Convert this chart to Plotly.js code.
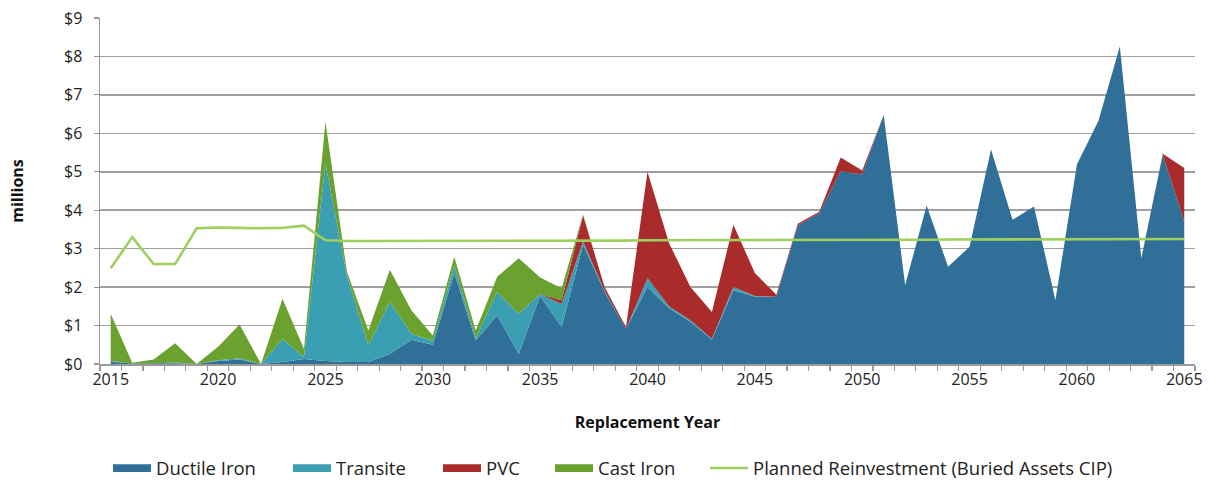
<!DOCTYPE html>
<html>
<head>
<meta charset="utf-8">
<script src="https://cdn.plot.ly/plotly-3.0.1.min.js"></script>
<style>html,body{margin:0;padding:0;background:#fff;}#chart{width:1210px;height:483px;}</style>
</head>
<body>
<div id="chart"></div>
<script>
const years = [2015,2016,2017,2018,2019,2020,2021,2022,2023,2024,2025,2026,2027,2028,2029,2030,2031,2032,2033,2034,2035,2036,2037,2038,2039,2040,2041,2042,2043,2044,2045,2046,2047,2048,2049,2050,2051,2052,2053,2054,2055,2056,2057,2058,2059,2060,2061,2062,2063,2064,2065];

const ductileIron = [0.06,0.01,0.02,0.02,0,0.08,0.12,0,0.05,0.13,0.08,0.05,0.05,0.26,0.63,0.50,2.36,0.61,1.27,0.26,1.77,0.96,3.10,1.88,0.92,2.00,1.45,1.10,0.64,1.92,1.75,1.75,3.60,3.92,5.02,4.93,6.48,2.05,4.12,2.53,3.05,5.58,3.75,4.10,1.66,5.19,6.32,8.26,2.75,5.45,3.70];
const transite    = [0.02,0,0,0.02,0,0.02,0.03,0,0.60,0.05,5.14,2.25,0.43,1.36,0.16,0.10,0.20,0.06,0.61,1.05,0.05,0.60,0.09,0.02,0,0.23,0.05,0.04,0.02,0.08,0.02,0,0,0,0,0,0,0,0,0,0,0,0,0,0,0,0,0,0,0,0];
const pvc         = [0,0,0,0,0,0,0,0,0,0,0,0,0,0,0,0,0,0,0,0,0,0.10,0.67,0.10,0.04,2.77,1.65,0.86,0.69,1.62,0.60,0.05,0.05,0.04,0.35,0.10,0,0,0,0,0,0,0,0,0,0,0,0,0,0.02,1.40];
const castIron    = [1.22,0.02,0.10,0.50,0,0.35,0.88,0,1.05,0.21,1.08,0.10,0.39,0.83,0.61,0.14,0.23,0.20,0.39,1.44,0.43,0.31,0.03,0,0,0,0,0,0,0,0,0,0,0,0,0,0,0,0,0,0,0,0,0,0,0,0,0,0,0,0];
const plannedReinvestment = [2.49,3.30,2.60,2.60,3.53,3.55,3.54,3.53,3.54,3.60,3.22,3.20,3.20,3.20,3.20,3.20,3.20,3.20,3.21,3.21,3.21,3.21,3.21,3.21,3.21,3.22,3.22,3.22,3.22,3.22,3.22,3.22,3.23,3.23,3.23,3.23,3.23,3.23,3.23,3.24,3.24,3.24,3.24,3.24,3.24,3.24,3.25,3.25,3.25,3.25,3.25];

const seriesNames = ['Ductile Iron', 'Transite', 'PVC', 'Cast Iron', 'Planned Reinvestment (Buried Assets CIP)'];
const seriesColors = ['#2f6f98', '#3a9fb2', '#aa2b2b', '#6aa12f', '#9fd05f'];

const yTickVals = [0,1,2,3,4,5,6,7,8,9];
const yTickText = ['$0','$1','$2','$3','$4','$5','$6','$7','$8','$9'];
const xTickVals = [2015,2020,2025,2030,2035,2040,2045,2050,2055,2060,2065];

const FONT = 'Open Sans, Lato, sans-serif';
const legendIds = ['legend', 'legend2', 'legend3', 'legend4', 'legend5'];

function area(i, y) {
  return {
    x: years, y: y, name: seriesNames[i], type: 'scatter', mode: 'lines',
    stackgroup: 'pipes', fill: 'tonexty',
    line: {color: seriesColors[i], width: 0},
    fillcolor: seriesColors[i], showlegend: false
  };
}
function swatch(i) {
  return {
    x: [null], y: [null], name: seriesNames[i], type: 'scatter', mode: 'lines',
    fill: 'toself', fillcolor: seriesColors[i],
    line: {color: seriesColors[i], width: 3.5},
    legend: legendIds[i], showlegend: true
  };
}

const traces = [
  area(0, ductileIron),
  area(1, transite),
  area(2, pvc),
  area(3, castIron),
  {
    x: years, y: plannedReinvestment, name: seriesNames[4],
    type: 'scatter', mode: 'lines', legend: 'legend5',
    line: {color: seriesColors[4], width: 2.6}
  },
  swatch(0), swatch(1), swatch(2), swatch(3)
];

function legendAt(px) {
  return {
    orientation: 'h', xref: 'container', yref: 'container',
    x: px / 1210, y: 0.03, xanchor: 'left', yanchor: 'middle',
    font: {family: FONT, size: 18.5, color: '#222'},
    itemwidth: 38, bgcolor: 'rgba(0,0,0,0)'
  };
}

const layout = {
  width: 1210, height: 483,
  margin: {l: 100, r: 15, t: 18, b: 119},
  paper_bgcolor: '#ffffff', plot_bgcolor: '#ffffff',
  font: {family: FONT, size: 16, color: '#222'},
  showlegend: true,
  legend: legendAt(108),
  legend2: legendAt(288),
  legend3: legendAt(438),
  legend4: legendAt(550),
  legend5: legendAt(705),
  xaxis: {
    range: [2014.5, 2065.5],
    tickmode: 'array', tickvals: xTickVals, ticktext: xTickVals.map(String),
    ticks: '', showgrid: false, zeroline: false,
    showline: true, linecolor: '#999', linewidth: 1.5,
    minor: {tick0: 2014.5, dtick: 1, ticks: 'outside', ticklen: 5, tickcolor: '#999', tickwidth: 1.2, showgrid: false},
    tickfont: {family: FONT, size: 16, color: '#222'},
    title: {text: 'Replacement Year', font: {family: FONT, size: 16, color: '#111', weight: 'bold'}, standoff: 28}
  },
  yaxis: {
    range: [0, 9],
    tickmode: 'array', tickvals: yTickVals, ticktext: yTickText,
    ticks: 'outside', ticklen: 5, tickcolor: '#999', tickwidth: 1.2,
    ticklabelstandoff: 8,
    showgrid: true, gridcolor: '#a0a0a0', gridwidth: 1.5,
    zeroline: false, showline: true, linecolor: '#999', linewidth: 1.5,
    tickfont: {family: FONT, size: 16, color: '#222'},
    title: {text: 'millions', font: {family: FONT, size: 16, color: '#111', weight: 'bold'}, standoff: 36}
  }
};

Plotly.newPlot('chart', traces, layout, {displayModeBar: false, staticPlot: true});
</script>
</body>
</html>
